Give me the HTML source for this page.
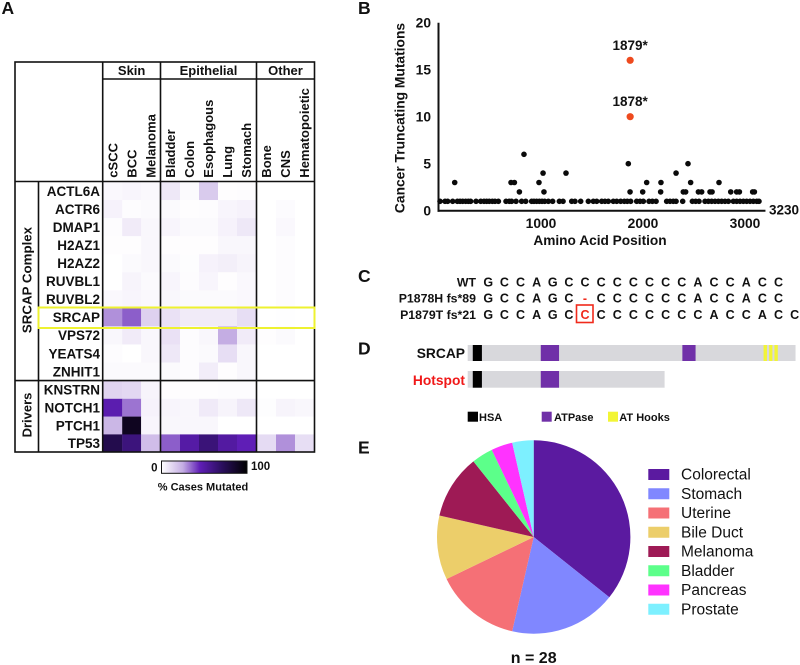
<!DOCTYPE html>
<html lang="en">
<head>
<meta charset="utf-8">
<title>SRCAP mutation figure</title>
<style>
html,body{margin:0;padding:0;background:#fff;width:800px;height:665px;overflow:hidden}
svg{display:block}
text{font-family:"Liberation Sans",sans-serif;font-weight:bold;fill:#111}
.reg{font-weight:normal}
</style>
</head>
<body>
<svg id="fig" xmlns="http://www.w3.org/2000/svg" width="800" height="665" viewBox="0 0 800 665">
  <defs>
    <linearGradient id="scale-gradient" x1="0" x2="1" y1="0" y2="0"></linearGradient>
  </defs>
  <text x="1.5" y="14" font-size="17.5">A</text>
  <text x="358" y="14" font-size="17.5">B</text>
  <text x="358" y="282" font-size="17.5">C</text>
  <text x="358" y="354.3" font-size="17.5">D</text>
  <text x="358" y="453.3" font-size="17.5">E</text>
  <g id="heat"></g>
  <g id="grid" stroke="#111" stroke-width="1.6" fill="none">
    <rect x="15" y="62" width="299.5" height="390"/>
    <path d="M102.7 62V452M160.5 62V452M256.5 62V452M102.7 79H314.5M15 181.5H314.5M38.5 181.5V452M15 380.6H314.5"/>
  </g>
  <rect x="38.5" y="307.5" width="276" height="20.5" fill="none" stroke="#eef230" stroke-width="2"/>
  <g id="heat-labels"></g>
  <text font-size="13.3" text-anchor="middle" transform="translate(31.5,280) rotate(-90)">SRCAP Complex</text>
  <text font-size="13" text-anchor="middle" transform="translate(31.5,415) rotate(-90)">Drivers</text>
  <rect x="161.5" y="461" width="85.5" height="12.3" fill="url(#scale-gradient)" stroke="#111" stroke-width="1"/>
  <text x="157.5" y="471.5" font-size="11.5" text-anchor="end">0</text>
  <text x="251" y="470" font-size="11.5">100</text>
  <text x="203" y="490.5" font-size="11" text-anchor="middle">% Cases Mutated</text>

  <g id="scatter"></g>
  <text font-size="13.8" text-anchor="middle" transform="translate(404.5,118) rotate(-90)">Cancer Truncating Mutations</text>
  <text x="600" y="245" font-size="13.7" text-anchor="middle">Amino Acid Position</text>

  <g id="seq"></g>
  <rect x="576.5" y="305" width="16.5" height="17.5" fill="none" stroke="#f02a1c" stroke-width="1.6"/>

  <g id="domains"></g>
  <text x="465" y="358" font-size="13.8" text-anchor="end">SRCAP</text>
  <text x="465" y="385" font-size="13.8" text-anchor="end" style="fill:#f01818">Hotspot</text>
  <g>
    <rect x="467.7" y="411.7" width="10.3" height="10" fill="#000"/>
    <text x="479" y="421" font-size="11">HSA</text>
    <rect x="541.7" y="411.7" width="10" height="10" fill="#7030a8"/>
    <text x="554" y="421" font-size="11">ATPase</text>
    <rect x="608" y="411.7" width="10" height="10" fill="#f2f535"/>
    <text x="619.3" y="421" font-size="11">AT Hooks</text>
  </g>

  <g id="pie"></g>
  <g id="pie-legend"></g>
  <text x="533.7" y="663" font-size="16" text-anchor="middle">n = 28</text>
</svg>
<script>
/* ---------- Panel A data ---------- */
const heatGenes = ['ACTL6A','ACTR6','DMAP1','H2AZ1','H2AZ2','RUVBL1','RUVBL2','SRCAP','VPS72','YEATS4','ZNHIT1','KNSTRN','NOTCH1','PTCH1','TP53'];
const heatCancers = ['cSCC','BCC','Melanoma','Bladder','Colon','Esophagous','Lung','Stomach','Bone','CNS','Hematopoietic'];
const heatGroups = ['Skin','Epithelial','Other'];
const heatValues = [
  [2,3,2,7,1.5,16,0.5,1,0,0,0],
  [4,0.8,1.5,1.5,0.5,0.8,3,4,0,1.2,0],
  [0.8,6,2.5,3,1.5,1.5,4,7,0,2,0],
  [0.6,0.5,2.5,0.6,0.5,0.6,2.5,2.5,0,0.8,0],
  [0,1.5,2.5,1.5,0.7,4,5,3.5,0,0.8,0],
  [0,3.5,1.5,3,1,3,0.6,2,0,1,0],
  [2,3,2,2.5,1.5,1.5,1.5,2,0,0.8,0],
  [29,36,14,9,6,6,6,10,0,0.4,0],
  [2.5,6,2.5,9,0.8,2.5,25,6,0.5,1.5,0],
  [0.8,0,2.5,7,0.8,1.5,10,2.5,0,0,0],
  [1.5,1.5,1.5,1.5,0.8,5.5,0.6,2.5,0,0,0],
  [13,12,3.5,0.6,0.6,0.6,1,1,0,0,0],
  [47,33,4,3,2.5,6.5,3.5,7,0.7,3.5,2.5],
  [22,90,3,2.5,2.5,2.5,0,0,0,0,0],
  [76,62,20,36,50,63,51,45,11,29,10]
];
const scaleStops = [0,25,45,70,100];
const scaleColors = ['#ffffff','#c4ade3','#5f1eb6','#2c0f60','#000000'];

/* ---------- Panel B data ---------- */
const singlePositions = [15,64,90,139,185,211,237,266,292,315,368,414,446,472,498,528,554,587,662,694,717,760,815,855,913,936,962,989,1015,1041,1077,1119,1185,1221,1306,1338,1394,1469,1518,1551,1600,1632,1665,1714,1747,1786,1822,1851,1884,1943,1976,2008,2064,2097,2133,2237,2270,2302,2329,2394,2489,2521,2554,2613,2646,2678,2711,2744,2776,2809,2842,2891,2923,2956,2989,3021,3054,3087,3120,3142];
const multiPositions = [159,711,744,793,838,985,1025,1034,1250,1861,1878,2002,2041,2178,2181,2329,2400,2423,2446,2472,2548,2580,2662,2682,2750,2865,2923,2950,3080,3097];
const multiCounts = [3,3,3,2,6,3,4,2,4,5,2,2,3,2,3,4,2,2,5,3,2,2,2,2,3,2,2,2,2,2];
const hotspotPositions = [1879,1879];
const hotspotCounts = [16,10];
const hotspotLabels = ['1879*','1878*'];
const yTicks = [0,5,10,15,20];
const xTicks = [1000,2000,3000];
const proteinLength = 3230;

/* ---------- Panel C data ---------- */
const seqNames = ['WT','P1878H fs*89','P1879T fs*21'];
const seqBases = ['GCCAGCCCCCCCCACCACC','GCCAGC-CCCCCCACCACC','GCCAGCCCCCCCCCACCACC'];

/* ---------- Panel D data (amino-acid coordinates) ---------- */
const hsaDomain = [50,140];
const atpaseDomains = [[720,900],[2115,2245]];
const atHooks = [[2915,2948],[2970,3002],[3022,3055]];
const hotspotEnd = 1940;

/* ---------- Panel E data ---------- */
const pieNames = ['Colorectal','Stomach','Uterine','Bile Duct','Melanoma','Bladder','Pancreas','Prostate'];
const pieCounts = [10,5,4,3,3,1,1,1];
const pieColors = ['#5b1aa0','#8087ff','#f57076','#ecce6a','#9e1a55','#5cff8a','#ff33ff','#7df0ff'];

/* ---------- helpers ---------- */
const NS = 'http://www.w3.org/2000/svg';
function mk(parent, tag, attrs, txt){
  const el = document.createElementNS(NS, tag);
  for (const k in attrs) el.setAttribute(k, attrs[k]);
  if (txt !== undefined) el.textContent = txt;
  parent.appendChild(el);
  return el;
}
function hexRgb(h){return [1,3,5].map(i=>parseInt(h.substr(i,2),16));}
function heatColor(v){
  let i = 0;
  while (i < scaleStops.length-2 && v > scaleStops[i+1]) i++;
  const t = Math.min(1,Math.max(0,(v-scaleStops[i])/(scaleStops[i+1]-scaleStops[i])));
  const a = hexRgb(scaleColors[i]), b = hexRgb(scaleColors[i+1]);
  return 'rgb('+a.map((c,j)=>Math.round(c+(b[j]-c)*t)).join(',')+')';
}

/* ---------- Panel A ---------- */
const grad = document.getElementById('scale-gradient');
scaleStops.forEach((s,i)=>{ mk(grad,'stop',{offset:s+'%','stop-color':scaleColors[i]}); });

const heat = document.getElementById('heat');
const heatLabels = document.getElementById('heat-labels');
const groupEdges = [[103.3,160,3],[161,256,5],[257,314,3]];
function colX(c){
  let idx = c;
  for (const g of groupEdges){
    if (idx < g[2]) return g[0] + idx*(g[1]-g[0])/g[2];
    idx -= g[2];
  }
}
function colW(c){
  let idx = c;
  for (const g of groupEdges){
    if (idx < g[2]) return (g[1]-g[0])/g[2];
    idx -= g[2];
  }
}
function rowY(r){ return r < 11 ? 182 + r*18.05 : 381 + (r-11)*17.8; }
function rowH(r){ return r < 11 ? 18.05 : 17.8; }

heatGenes.forEach((gene,r)=>{
  const lab = mk(heatLabels,'text',{x:100,y:rowY(r)+rowH(r)/2+4.8,'font-size':13.5,'text-anchor':'end'},gene);
  
  
  heatCancers.forEach((cancer,c)=>{
    const cell = mk(heat,'rect',{x:colX(c),y:rowY(r),width:colW(c)+0.2,height:rowH(r)+0.2,fill:heatColor(heatValues[r][c])});
    
    
  });
});
heatCancers.forEach((cancer,c)=>{
  const cx = colX(c)+colW(c)/2+4.7;
  const lab = mk(heatLabels,'text',{'font-size':13,transform:'translate('+cx+',177.7) rotate(-90)'},cancer);
  
  
});
heatGroups.forEach((group,i)=>{
  const g = groupEdges[i];
  const lab = mk(heatLabels,'text',{x:(g[0]+g[1])/2,y:75,'font-size':13,'text-anchor':'middle'},group);
  
  
});

/* ---------- Panel B ---------- */
const sc = document.getElementById('scatter');
const xPos = p => 438.5 + p*0.102;
const yPos = n => 210.7 - n*9.4;

const yAxis = mk(sc,'line',{x1:xPos(0),x2:xPos(0),y1:yPos(20),y2:yPos(0)+1,stroke:'#111','stroke-width':2});


const xAxis = mk(sc,'line',{x1:xPos(0)-1,x2:xPos(proteinLength)-2.5,y1:yPos(0),y2:yPos(0),stroke:'#111','stroke-width':2});


yTicks.forEach(t=>{
  const lab = mk(sc,'text',{x:431,y:yPos(t)+5,'font-size':13.8,'text-anchor':'end'},String(t));
  
  
});
xTicks.forEach(t=>{
  const lab = mk(sc,'text',{x:xPos(t)+0.5,y:228,'font-size':13.8,'text-anchor':'middle'},String(t));
  
  
});
const endLab = mk(sc,'text',{x:xPos(proteinLength)+1,y:214.5,'font-size':13.5},String(proteinLength));



singlePositions.forEach(p=>{
  const d = mk(sc,'circle',{cx:xPos(p),cy:yPos(1),r:2.8,fill:'#0a0a0a'});
  
  
});
multiPositions.forEach((p,i)=>{
  const d = mk(sc,'circle',{cx:xPos(p),cy:yPos(multiCounts[i]),r:2.8,fill:'#0a0a0a'});
  
  
});
hotspotPositions.forEach((p,i)=>{
  const d = mk(sc,'circle',{cx:xPos(p),cy:yPos(hotspotCounts[i]),r:3.6,fill:'#ee4a1e'});
  
  
  const lab = mk(sc,'text',{x:xPos(p),y:yPos(hotspotCounts[i])-10.5,'font-size':13.5,'text-anchor':'middle'},hotspotLabels[i]);
  
  
});

/* ---------- Panel C ---------- */
const seq = document.getElementById('seq');
const rowBase = [286.3,302.5,319];
seqNames.forEach((name,r)=>{
  const lab = mk(seq,'text',{x:476,y:rowBase[r],'font-size':12.3,'text-anchor':'end'},name);
  
  
  [...seqBases[r]].forEach((b,i)=>{
    const red = (i===6 && r>0);
    const t = mk(seq,'text',{x:488.3+i*16.12,y:rowBase[r],'font-size':12.5,'text-anchor':'middle'},b);
    if (red) t.setAttribute('style','fill:#f02a1c');
    
    
  });
});

/* ---------- Panel D ---------- */
const dom = document.getElementById('domains');
const dx = a => 467.7 + a*0.1015;
function track(y,h,end,name){
  const bar = mk(dom,'rect',{x:dx(0),y:y,width:dx(end)-dx(0),height:h,fill:'#d8d8dc'});
  
  
  const hsa = mk(dom,'rect',{x:dx(hsaDomain[0]),y:y,width:dx(hsaDomain[1])-dx(hsaDomain[0]),height:h,fill:'#000'});
  
  
  atpaseDomains.filter(d=>d[1]<=end).forEach(d=>{
    const a = mk(dom,'rect',{x:dx(d[0]),y:y,width:dx(d[1])-dx(d[0]),height:h,fill:'#7030a8'});
    
    
  });
  atHooks.filter(d=>d[1]<=end).forEach(d=>{
    const a = mk(dom,'rect',{x:dx(d[0]),y:y,width:dx(d[1])-dx(d[0]),height:h,fill:'#f2f535'});
    
    
  });
}
track(345,16,proteinLength,'srcap');
track(371,16.7,hotspotEnd,'hotspot');

/* ---------- Panel E ---------- */
const pie = document.getElementById('pie');
const pieLegend = document.getElementById('pie-legend');
const total = pieCounts.reduce((a,b)=>a+b,0);
let acc = 0;
const PCX = 533.7, PCY = 537, PR = 96.7;
pieCounts.forEach((n,i)=>{
  const a0 = acc/total*2*Math.PI;
  acc += n;
  const a1 = acc/total*2*Math.PI;
  const large = (a1-a0) > Math.PI ? 1 : 0;
  const d = 'M'+PCX+' '+PCY+'L'+(PCX+PR*Math.sin(a0))+' '+(PCY-PR*Math.cos(a0))+
            'A'+PR+' '+PR+' 0 '+large+' 1 '+(PCX+PR*Math.sin(a1))+' '+(PCY-PR*Math.cos(a1))+'Z';
  const slice = mk(pie,'path',{d:d,fill:pieColors[i]});
  
  
  const ly = 469 + i*19.25;
  const sw = mk(pieLegend,'rect',{x:648.3,y:ly,width:21,height:11,fill:pieColors[i]});
  
  
  const tx = mk(pieLegend,'text',{x:681,y:ly+10.5,'font-size':15.5,'class':'reg'},pieNames[i]);
  
  
});
</script>
</body>
</html>
